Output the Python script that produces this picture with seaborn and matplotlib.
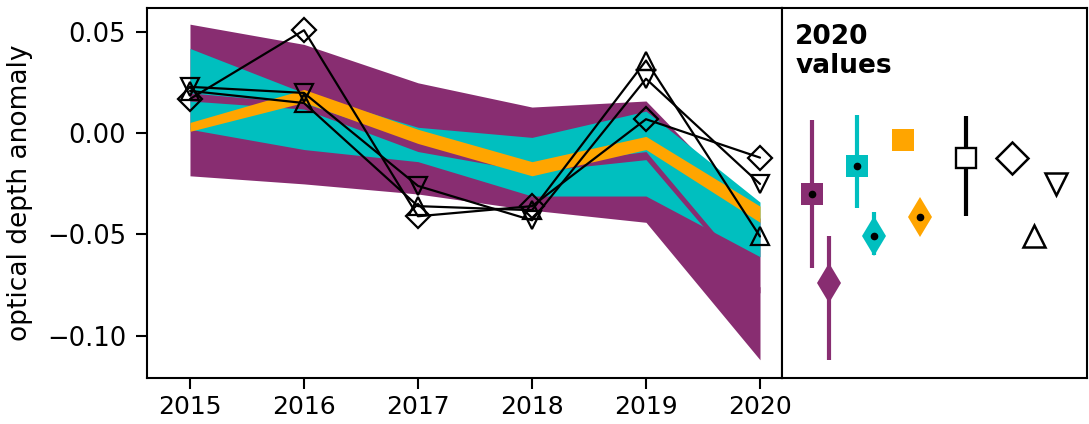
import matplotlib
matplotlib.use("Agg")
import matplotlib.pyplot as plt
import pandas as pd
import seaborn as sns

# ---- data -------------------------------------------------------------
years = [2015, 2016, 2017, 2018, 2019, 2020]

# purple ensemble envelope (outer range)
purple_hi = [0.054, 0.044, 0.025, 0.013, 0.016, -0.042]
purple_lo = [-0.021, -0.025, -0.030, -0.038, -0.044, -0.112]
# cyan ensemble envelope
cyan_hi = [0.042, 0.020, 0.003, -0.002, 0.011, -0.034]
cyan_lo = [0.002, -0.008, -0.014, -0.031, -0.031, -0.061]
# narrow purple core band
purple_core_hi = [0.020, 0.015, -0.004, -0.016, -0.009, -0.076]
purple_core_lo = [0.016, 0.012, -0.009, -0.019, -0.013, -0.079]
# orange band
orange_hi = [0.0054, 0.0217, 0.002, -0.014, -0.0015, -0.036]
orange_lo = [0.001, 0.0153, -0.005, -0.021, -0.008, -0.044]

# individual records
rec_diamond = [0.017, 0.051, -0.041, -0.036, 0.007, -0.012]
rec_down = [0.023, 0.020, -0.026, -0.043, 0.027, -0.025]
rec_up = [0.021, 0.015, -0.036, -0.038, 0.036, -0.051]

# 2020 summary values: (value, err_top, err_bottom)
purple_sq = (-0.030, 0.0066, -0.0665)
purple_dm = (-0.074, -0.051, -0.112)
cyan_sq = (-0.0163, 0.0089, -0.0369)
cyan_dm = (-0.0509, -0.039, -0.060)
orange_sq = -0.0033
orange_dm = -0.0412
black_sq = (-0.0121, 0.0085, -0.0407)

PURPLE = "#882d71"
CYAN = "#00bfbf"
ORANGE = "#ffa500"

sns.set_style("ticks")
plt.rcParams["font.family"] = ["DejaVu Sans"]
for key in ("text.color", "axes.labelcolor", "xtick.color", "ytick.color",
            "axes.edgecolor"):
    plt.rcParams[key] = "black"

fig = plt.figure(figsize=(10.89, 4.24), dpi=100)
ax = fig.add_axes([147 / 1089, 46 / 424, 635 / 1089, 370 / 424])
ax2 = fig.add_axes([782 / 1089, 46 / 424, 305 / 1089, 370 / 424], sharey=ax)

# ---- time series panel ------------------------------------------------
ax.fill_between(years, purple_lo, purple_hi, color=PURPLE, lw=0, zorder=1)
ax.fill_between(years, cyan_lo, cyan_hi, color=CYAN, lw=0, zorder=2)
ax.fill_between(years, purple_core_lo, purple_core_hi, color=PURPLE, lw=0, zorder=3)
ax.fill_between(years, orange_lo, orange_hi, color=ORANGE, lw=0, zorder=4)

records = pd.DataFrame({
    "year": years * 3,
    "anomaly": rec_diamond + rec_down + rec_up,
    "record": ["D"] * 6 + ["v"] * 6 + ["^"] * 6,
})
sizes = {"D": 12, "v": 13.5, "^": 13.5}
for name, grp in records.groupby("record", sort=False):
    sns.lineplot(data=grp, x="year", y="anomaly", ax=ax, color="black",
                 lw=1.6, marker=name, markersize=sizes[name],
                 markerfacecolor="none", markeredgecolor="black",
                 markeredgewidth=1.6, legend=False, zorder=5)

ax.set_xlim(2014.623, 2020.193)
ax.set_ylim(-0.121, 0.062)
ax.set_xticks(years)
ax.set_yticks([0.05, 0.0, -0.05, -0.10])
ax.set_yticklabels(["0.05", "0.00", "\u22120.05", "\u22120.10"])
ax.set_xlabel("")
ax.set_ylabel("optical depth anomaly", fontsize=19, labelpad=10)
ax.tick_params(axis="x", labelsize=18, width=1.5, length=8, pad=4)
ax.tick_params(axis="y", labelsize=18.5, width=1.5, length=8, pad=7)

# ---- 2020 summary panel -----------------------------------------------
ax2.set_xlim(0, 1)


def summary(x, vals, color, marker, ms, dot=True, err=True, face=None):
    v = vals[0] if isinstance(vals, tuple) else vals
    if err and isinstance(vals, tuple):
        ax2.plot([x, x], [vals[1], vals[2]], color=color, lw=3.0,
                 solid_capstyle="butt", zorder=2)
    ax2.plot([x], [v], marker=marker, ms=ms, ls="none",
             markerfacecolor=face if face else color,
             markeredgecolor=color, markeredgewidth=0 if face is None else 1.7,
             zorder=3)
    if dot:
        ax2.plot([x], [v], marker="o", ms=4.5, color="black", ls="none", zorder=4)


summary(0.098, purple_sq, PURPLE, "s", 16.5)
summary(0.154, purple_dm, PURPLE, "d", 20.5, dot=False)
summary(0.246, cyan_sq, CYAN, "s", 16.5)
summary(0.302, cyan_dm, CYAN, "d", 20.5)
summary(0.397, orange_sq, ORANGE, "s", 16.5, dot=False, err=False)
summary(0.452, orange_dm, ORANGE, "d", 20.5)
summary(0.603, black_sq, "black", "s", 15, dot=False, face="white")
ax2.plot([0.754], [rec_diamond[-1]], marker="D", ms=16.5, ls="none",
         markerfacecolor="none", markeredgecolor="black", markeredgewidth=1.8)
ax2.plot([0.826], [rec_up[-1]], marker="^", ms=16.5, ls="none",
         markerfacecolor="none", markeredgecolor="black", markeredgewidth=1.8)
ax2.plot([0.898], [rec_down[-1]], marker="v", ms=16.5, ls="none",
         markerfacecolor="none", markeredgecolor="black", markeredgewidth=1.8)

ax2.text(0.043, 0.957, "2020\nvalues", transform=ax2.transAxes, ha="left",
         va="top", fontsize=19, fontweight="bold", linespacing=1.15)
ax2.tick_params(left=False, bottom=False, labelleft=False, labelbottom=False)

for a in (ax, ax2):
    for s in a.spines.values():
        s.set_linewidth(1.5)
        s.set_color("black")

fig.savefig("out.png", dpi=100)
